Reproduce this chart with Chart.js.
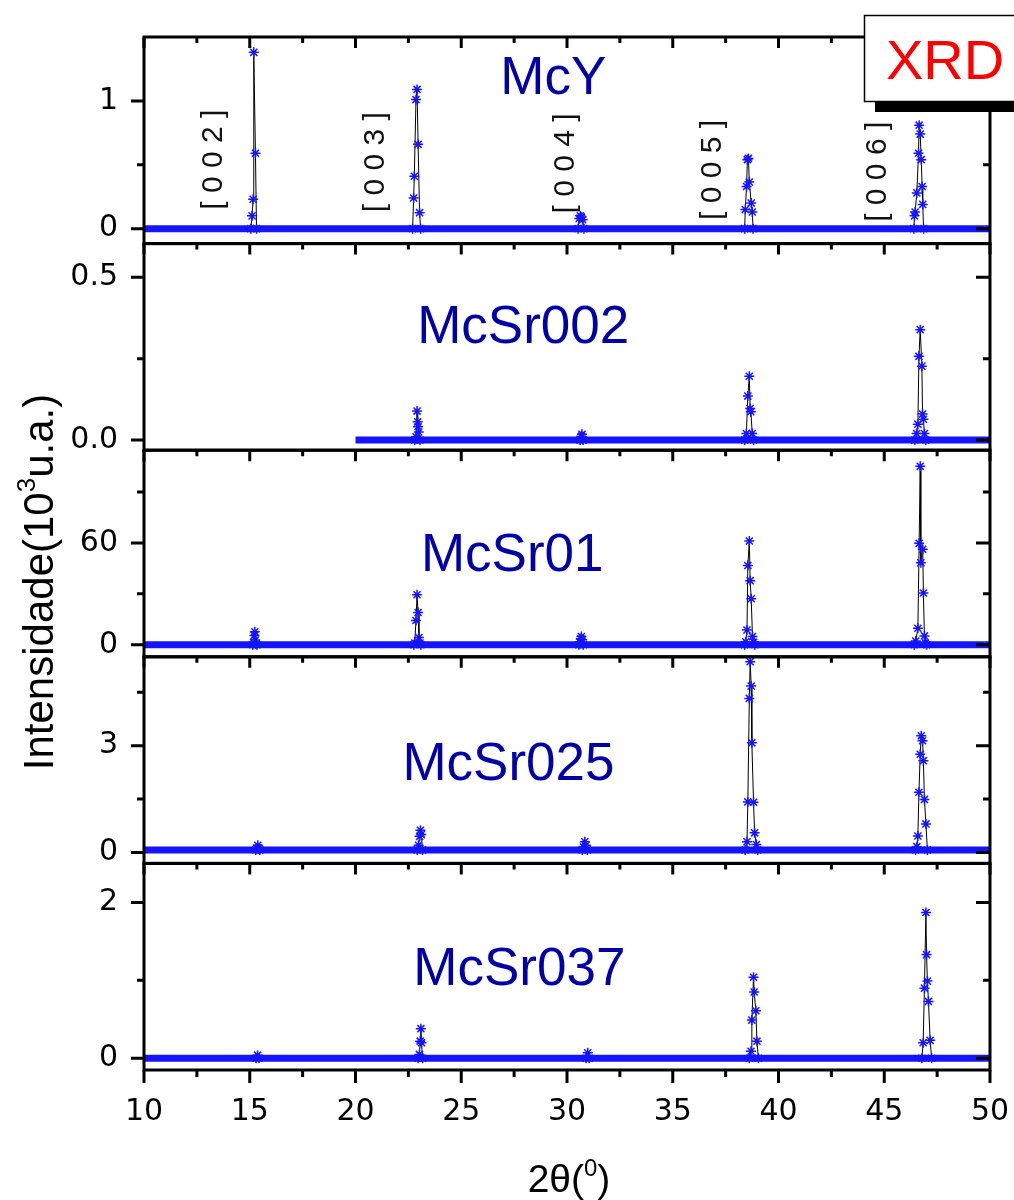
<!DOCTYPE html>
<html>
<head>
<meta charset="utf-8">
<script src="https://cdn.jsdelivr.net/npm/chart.js@4/dist/chart.umd.min.js"></script>
<style>
body { margin: 0; background: #fff; }
#xrdChart { display: block; }
</style>
</head>
<body>
<canvas id="xrdChart" width="1014" height="1200"></canvas>
<script>
// samples, top panel first
const sampleNames = ['McY', 'McSr002', 'McSr01', 'McSr025', 'McSr037'];

// points (2theta, intensity in 10^3 u.a.)
const mcyTheta = [15.05, 15.11, 15.16, 15.19, 15.27, 15.32,
    22.70, 22.75, 22.78, 22.86, 22.91, 22.96, 23.03, 23.08,
    30.52, 30.58, 30.63, 30.68, 30.74, 30.80,
    38.40, 38.43, 38.49, 38.53, 38.58, 38.62, 38.71, 38.76, 38.80,
    46.40, 46.43, 46.46, 46.54, 46.62, 46.65, 46.70, 46.75, 46.79, 46.82, 46.86];
const mcyInt = [0, 0.10, 0.23, 1.38, 0.59, 0,
    0, 0.24, 0.41, 1.01, 1.09, 0.66, 0.125, 0,
    0, 0.08, 0.10, 0.09, 0.07, 0,
    0, 0.15, 0.33, 0.54, 0.55, 0.365, 0.20, 0.13, 0,
    0, 0.10, 0.13, 0.28, 0.59, 0.81, 0.74, 0.54, 0.33, 0.19, 0];

const sr002Theta = [22.80, 22.86, 22.91, 22.94, 22.96, 22.99, 23.05,
    30.62, 30.68, 30.71, 30.76,
    38.40, 38.48, 38.55, 38.62, 38.66, 38.69, 38.76, 38.82,
    46.45, 46.53, 46.59, 46.64, 46.70, 46.78, 46.81, 46.85, 46.90, 46.96];
const sr002Int = [0, 0.01, 0.089, 0.056, 0.041, 0.025, 0,
    0, 0.012, 0.018, 0,
    0, 0.02, 0.135, 0.196, 0.097, 0.087, 0.02, 0,
    0, 0.02, 0.049, 0.257, 0.339, 0.227, 0.08, 0.064, 0.02, 0];

const sr01Theta = [15.14, 15.18, 15.22, 15.24, 15.26, 15.30, 15.34,
    22.76, 22.80, 22.86, 22.91, 22.96, 23.00, 23.05, 23.09,
    30.56, 30.61, 30.65, 30.68, 30.72, 30.77,
    38.40, 38.45, 38.51, 38.55, 38.62, 38.66, 38.71, 38.77, 38.83, 38.88,
    46.42, 46.49, 46.59, 46.65, 46.70, 46.73, 46.82, 46.85, 46.90, 46.95, 47.00];
const sr01Int = [0, 1.5, 5.5, 7.7, 2.8, 0.5, 0,
    0, 1, 14.3, 29.5, 19, 4.3, 1, 0,
    0, 1.5, 3.5, 4.8, 3, 0,
    0, 1.8, 8.7, 46.7, 61.2, 37.8, 27.1, 4.8, 1.5, 0,
    0, 2.2, 9.7, 59.8, 105.2, 48.3, 56.3, 30.5, 5.2, 1, 0];

const sr025Theta = [15.28, 15.34, 15.38, 15.43, 15.48,
    22.92, 22.98, 23.03, 23.07, 23.11, 23.17,
    30.72, 30.78, 30.84, 30.89, 30.96,
    38.42, 38.51, 38.55, 38.62, 38.66, 38.71, 38.74, 38.82, 38.87, 38.95, 39.02,
    46.48, 46.54, 46.59, 46.64, 46.70, 46.75, 46.81, 46.85, 46.90, 46.97, 47.04];
const sr025Int = [0.07, 0.12, 0.2, 0.12, 0.07,
    0.07, 0.2, 0.45, 0.62, 0.5, 0.07,
    0.07, 0.15, 0.3, 0.2, 0.07,
    0.07, 0.30, 1.42, 4.33, 5.36, 4.68, 3.08, 1.41, 0.55, 0.22, 0.07,
    0.07, 0.16, 0.46, 1.69, 2.76, 3.28, 3.14, 2.58, 1.49, 0.80, 0.07];

const sr037Theta = [15.30, 15.37, 15.44,
    22.96, 23.02, 23.06, 23.09, 23.12, 23.17,
    30.90, 30.98, 31.05,
    38.62, 38.70, 38.74, 38.82, 38.85, 38.93, 38.98, 39.05,
    46.78, 46.84, 46.90, 46.97, 47.00, 47.04, 47.09, 47.17, 47.24];
const sr037Int = [0, 0.04, 0,
    0, 0.05, 0.22, 0.38, 0.2, 0,
    0, 0.07, 0,
    0, 0.09, 0.49, 1.04, 0.85, 0.61, 0.22, 0,
    0, 0.20, 0.90, 1.87, 1.33, 0.99, 0.73, 0.23, 0];

// flat background of each scan (start, end in 2theta, level)
const baseStart = [10, 20, 10, 10, 10];
const baseEnd = [50, 50, 50, 50, 50];
const baseLevel = [0, 0, 0, 0.07, 0];

// axes
const yMin = [-0.117, -0.031, -7.1, -0.31, -0.15];
const yMax = [1.5, 0.603, 114.7, 5.5, 2.5];
const yMajor = [[0, 1], [0, 0.5], [0, 60], [0, 3], [0, 2]];
const yMinor = [[0.5], [0.25], [30, 90], [1.5, 4.5], [1]];
const yTickLabels = [['0', '1'], ['0.0', '0.5'], ['0', '60'], ['0', '3'], ['0', '2']];

const xMajor = [10, 15, 20, 25, 30, 35, 40, 45, 50];
const xMinor = [12.5, 17.5, 22.5, 27.5, 32.5, 37.5, 42.5, 47.5];
const xTickLabels = ['10', '15', '20', '25', '30', '35', '40', '45', '50'];

// Miller indices written over the McY scan
const hklLabels = ['[ 0 0 2 ]', '[ 0 0 3 ]', '[ 0 0 4 ]', '[ 0 0 5 ]', '[ 0 0 6 ]'];
const hklTheta = [13.28, 20.94, 29.92, 36.87, 44.67];

const scans = [
    [mcyTheta, mcyInt],
    [sr002Theta, sr002Int],
    [sr01Theta, sr01Int],
    [sr025Theta, sr025Int],
    [sr037Theta, sr037Int]
];

const markBlue = '#1414ff';
const nameBlue = '#0000a8';
const tickFont = { family: 'DejaVu Sans', size: 30 };

const datasets = [];
scans.forEach(([theta, inten], i) => {
    const pts = theta.map((t, k) => ({ x: t, y: inten[k] }));
    const yId = 'y' + i;
    datasets.push({
        label: sampleNames[i] + ' trace',
        data: pts,
        yAxisID: yId,
        showLine: true,
        borderColor: '#000',
        borderWidth: 1,
        pointRadius: 0,
        order: 3
    });
    datasets.push({
        label: sampleNames[i] + ' background',
        data: [{ x: baseStart[i], y: baseLevel[i] }, { x: baseEnd[i], y: baseLevel[i] }],
        yAxisID: yId,
        showLine: true,
        borderColor: markBlue,
        borderWidth: 7,
        pointRadius: 0,
        order: 2
    });
    datasets.push({
        label: sampleNames[i],
        data: pts,
        yAxisID: yId,
        showLine: false,
        pointStyle: 'star',
        pointRadius: 5,
        borderColor: markBlue,
        backgroundColor: markBlue,
        borderWidth: 1.5,
        order: 1
    });
});

const scales = {
    x: {
        type: 'linear',
        position: 'bottom',
        min: 10,
        max: 50,
        afterBuildTicks: scale => { scale.ticks = xMajor.map(v => ({ value: v })); },
        afterFit: scale => {
            scale.height = 130;
            scale.paddingLeft = 0;
            scale.paddingRight = 0;
        },
        grid: { display: false, drawTicks: false },
        border: { display: false },
        ticks: {
            padding: 24,
            color: '#000',
            font: tickFont,
            maxRotation: 0,
            callback: (v, idx) => xTickLabels[idx]
        }
    }
};
sampleNames.forEach((name, i) => {
    scales['y' + i] = {
        type: 'linear',
        position: 'left',
        stack: 'xrd',
        stackWeight: 1,
        weight: sampleNames.length - i,
        min: yMin[i],
        max: yMax[i],
        afterBuildTicks: scale => { scale.ticks = yMajor[i].map(v => ({ value: v })); },
        afterFit: scale => {
            scale.width = 144;
            scale.paddingTop = 0;
            scale.paddingBottom = 0;
        },
        grid: { display: false, drawTicks: false },
        border: { display: false },
        ticks: {
            padding: 26,
            color: '#000',
            font: tickFont,
            callback: (v, idx) => yTickLabels[i][idx]
        }
    };
});

// panel frames and inward / outward tick marks
const framePlugin = {
    id: 'frames',
    afterDraw(chart) {
        const ctx = chart.ctx;
        const { left, right } = chart.chartArea;
        const xs = chart.scales.x;
        ctx.save();
        ctx.strokeStyle = '#000';
        const seg = (x1, y1, x2, y2) => { ctx.moveTo(x1, y1); ctx.lineTo(x2, y2); };
        sampleNames.forEach((name, i) => {
            const ys = chart.scales['y' + i];
            ctx.lineWidth = 3;
            ctx.strokeRect(left, ys.top, right - left, ys.bottom - ys.top);
            ctx.beginPath();
            yMajor[i].forEach(v => {
                const y = ys.getPixelForValue(v);
                seg(left - 13, y, left, y);
                seg(right - 14, y, right, y);
            });
            yMinor[i].forEach(v => {
                const y = ys.getPixelForValue(v);
                seg(left - 7, y, left, y);
                seg(right - 7, y, right, y);
            });
            xMajor.forEach(v => { const x = xs.getPixelForValue(v); seg(x, ys.top, x, ys.top + 11); });
            xMinor.forEach(v => { const x = xs.getPixelForValue(v); seg(x, ys.top, x, ys.top + 6); });
            ctx.stroke();
        });
        const bottom = chart.scales['y' + (sampleNames.length - 1)].bottom;
        ctx.beginPath();
        xMajor.forEach(v => { const x = xs.getPixelForValue(v); seg(x, bottom, x, bottom + 13); });
        xMinor.forEach(v => { const x = xs.getPixelForValue(v); seg(x, bottom, x, bottom + 7); });
        ctx.stroke();
        ctx.restore();
    }
};

// text with one superscript part, centred on the origin
function drawSup(ctx, before, sup, after, size, supSize) {
    ctx.font = size + 'px "Liberation Sans"';
    const w1 = ctx.measureText(before).width;
    const w3 = ctx.measureText(after).width;
    ctx.font = supSize + 'px "Liberation Sans"';
    const w2 = ctx.measureText(sup).width;
    let x = -(w1 + w2 + w3) / 2;
    ctx.textAlign = 'left';
    ctx.textBaseline = 'alphabetic';
    ctx.font = size + 'px "Liberation Sans"';
    ctx.fillText(before, x, 0);
    x += w1;
    ctx.font = supSize + 'px "Liberation Sans"';
    ctx.fillText(sup, x, -size * 0.42);
    x += w2;
    ctx.font = size + 'px "Liberation Sans"';
    ctx.fillText(after, x, 0);
}

const textPlugin = {
    id: 'texts',
    afterDraw(chart) {
        const ctx = chart.ctx;
        const xs = chart.scales.x;
        const yTop = chart.scales.y0;
        ctx.save();
        ctx.fillStyle = '#000';

        // axis titles
        ctx.save();
        ctx.translate(53, 582);
        ctx.rotate(-Math.PI / 2);
        drawSup(ctx, 'Intensidade(10', '3', 'u.a.)', 42, 26);
        ctx.restore();

        ctx.save();
        ctx.translate(569, 1192);
        drawSup(ctx, '2\u03b8(', '0', ')', 39, 24);
        ctx.restore();

        // sample names
        const namePos = [[29.35, 1.17], [27.93, 0.343], [27.41, 52.3], [27.23, 2.455], [27.75, 1.13]];
        ctx.fillStyle = nameBlue;
        ctx.font = '53px "Liberation Sans"';
        ctx.textAlign = 'center';
        ctx.textBaseline = 'middle';
        sampleNames.forEach((name, i) => {
            const ys = chart.scales['y' + i];
            ctx.fillText(name, xs.getPixelForValue(namePos[i][0]), ys.getPixelForValue(namePos[i][1]));
        });

        // Miller indices
        const hklLevel = [0.54, 0.52, 0.51, 0.46, 0.445];
        ctx.fillStyle = '#111';
        ctx.font = '30px "Liberation Sans"';
        hklLabels.forEach((lab, k) => {
            ctx.save();
            ctx.translate(xs.getPixelForValue(hklTheta[k]), yTop.getPixelForValue(hklLevel[k]));
            ctx.rotate(-Math.PI / 2);
            ctx.fillText(lab, 0, 0);
            ctx.restore();
        });

        // XRD box with shadow
        ctx.fillStyle = '#000';
        ctx.fillRect(875, 101, 150, 11);
        ctx.fillStyle = '#fff';
        ctx.fillRect(864, 15, 160, 86);
        ctx.strokeStyle = '#000';
        ctx.lineWidth = 1.5;
        ctx.strokeRect(864.5, 15.5, 160, 86);
        ctx.fillStyle = '#ff0000';
        ctx.font = '56px "Liberation Sans"';
        ctx.textAlign = 'left';
        ctx.textBaseline = 'alphabetic';
        ctx.fillText('XRD', 886, 79);
        ctx.restore();
    }
};

new Chart(document.getElementById('xrdChart'), {
    type: 'scatter',
    data: { datasets: datasets },
    options: {
        responsive: false,
        devicePixelRatio: 1,
        animation: false,
        layout: { padding: { left: 0, right: 24, top: 37, bottom: 0 } },
        scales: scales,
        plugins: {
            legend: { display: false },
            tooltip: { enabled: false }
        }
    },
    plugins: [framePlugin, textPlugin]
});
</script>
</body>
</html>
